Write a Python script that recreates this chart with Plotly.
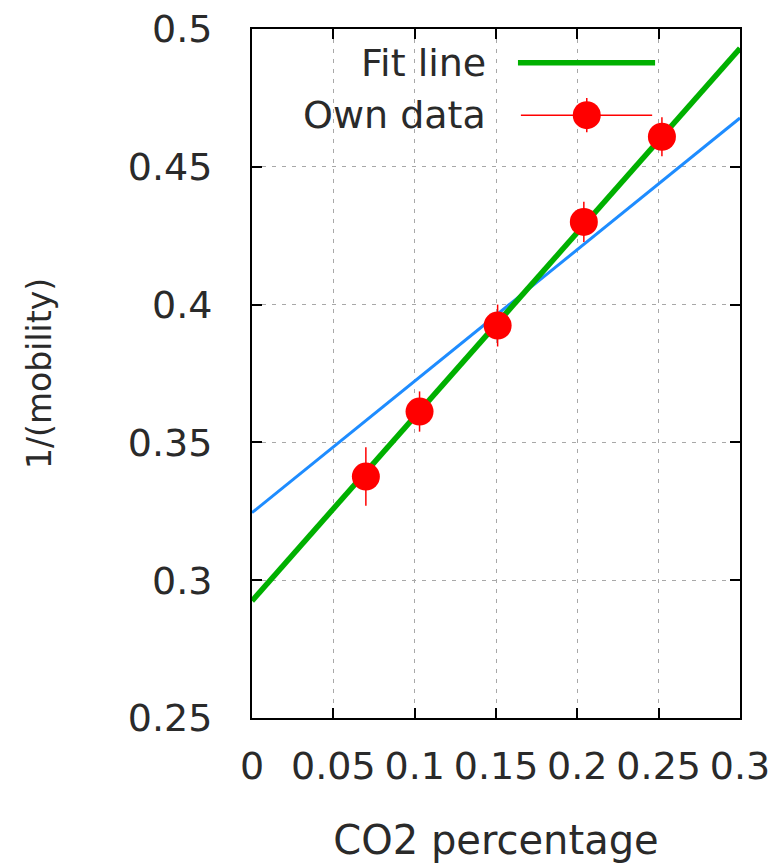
import plotly.graph_objects as go

# Data
co2 = [0.07, 0.103, 0.151, 0.204, 0.252]
inv_mob = [0.3376, 0.3612, 0.3924, 0.430, 0.4609]
err = [0.0106, 0.0073, 0.0076, 0.0073, 0.0071]

fit_x = [0.0, 0.3]
fit_y = [0.2925, 0.493]

blue_x = [0.0, 0.3]
blue_y = [0.3245, 0.4677]

x_ticks = [0, 0.05, 0.1, 0.15, 0.2, 0.25, 0.3]
x_ticktext = ["0", "0.05", "0.1", "0.15", "0.2", "0.25", "0.3"]
y_ticks = [0.25, 0.3, 0.35, 0.4, 0.45, 0.5]
y_ticktext = ["0.25", "0.3", "0.35", "0.4", "0.45", "0.5"]

legend_labels = ["Fit line", "Own data"]

FONT = "DejaVu Sans"
TXT = "#2a2a2a"
GREEN = "#00B000"
BLUE = "#1E8CFF"
RED = "#FF0000"

fig = go.Figure()

fig.add_trace(go.Scatter(x=blue_x, y=blue_y, mode="lines",
                         line=dict(color=BLUE, width=3), showlegend=False))
fig.add_trace(go.Scatter(x=fit_x, y=fit_y, mode="lines",
                         line=dict(color=GREEN, width=5.5), showlegend=False))
fig.add_trace(go.Scatter(x=co2, y=inv_mob, mode="markers",
                         marker=dict(color=RED, size=28, symbol="circle",
                                     line=dict(width=0)),
                         error_y=dict(type="data", array=err, visible=True,
                                      color=RED, thickness=1.5, width=0),
                         showlegend=False))

# Manual gnuplot-style key (text left, sample right) on an overlay axis
fig.add_trace(go.Scatter(x=[0.545, 0.826], y=[0.951, 0.951], mode="lines",
                         line=dict(color=GREEN, width=5.5), xaxis="x2", yaxis="y2",
                         showlegend=False))
fig.add_trace(go.Scatter(x=[0.551, 0.820], y=[0.875, 0.875], mode="lines",
                         line=dict(color=RED, width=1.5), xaxis="x2", yaxis="y2",
                         showlegend=False))
fig.add_trace(go.Scatter(x=[0.686], y=[0.875], mode="markers",
                         marker=dict(color=RED, size=28, line=dict(width=0)),
                         error_y=dict(type="constant", value=0.025, visible=True,
                                      color=RED, thickness=1.5, width=0),
                         xaxis="x2", yaxis="y2", showlegend=False))

for lbl, yy in zip(legend_labels, [0.951, 0.875]):
    fig.add_annotation(x=0.484, y=yy, xref="x2", yref="y2", text=lbl,
                       showarrow=False, xanchor="right", yanchor="middle",
                       font=dict(family=FONT, size=38, color=TXT))

axis_common = dict(showline=True, linecolor="black", linewidth=2, mirror="ticks",
                   ticks="inside", ticklen=10, tickwidth=2, tickcolor="black",
                   showgrid=True, gridcolor="#a8a8a8", gridwidth=1,
                   griddash="4px,6px", zeroline=False, automargin=False,
                   ticklabeloverflow="allow",
                   tickfont=dict(family=FONT, size=38, color=TXT))

fig.update_layout(
    width=769, height=863,
    margin=dict(l=252, r=29, t=29, b=145),
    paper_bgcolor="white", plot_bgcolor="white",
    font=dict(family=FONT, size=38, color=TXT),
    xaxis=dict(range=[0, 0.3], tickvals=x_ticks, ticktext=x_ticktext,
               title=dict(text="CO2 percentage", standoff=43,
                          font=dict(family=FONT, size=40, color=TXT)),
               ticklabelstandoff=13, **axis_common),
    yaxis=dict(range=[0.25, 0.5], tickvals=y_ticks, ticktext=y_ticktext,
               title=dict(text="1/(mobility)", standoff=66,
                          font=dict(family=FONT, size=33, color=TXT)),
               ticklabelstandoff=30, **axis_common),
    xaxis2=dict(overlaying="x", range=[0, 1], visible=False),
    yaxis2=dict(overlaying="y", range=[0, 1], visible=False),
)

fig.write_html("out.html")
